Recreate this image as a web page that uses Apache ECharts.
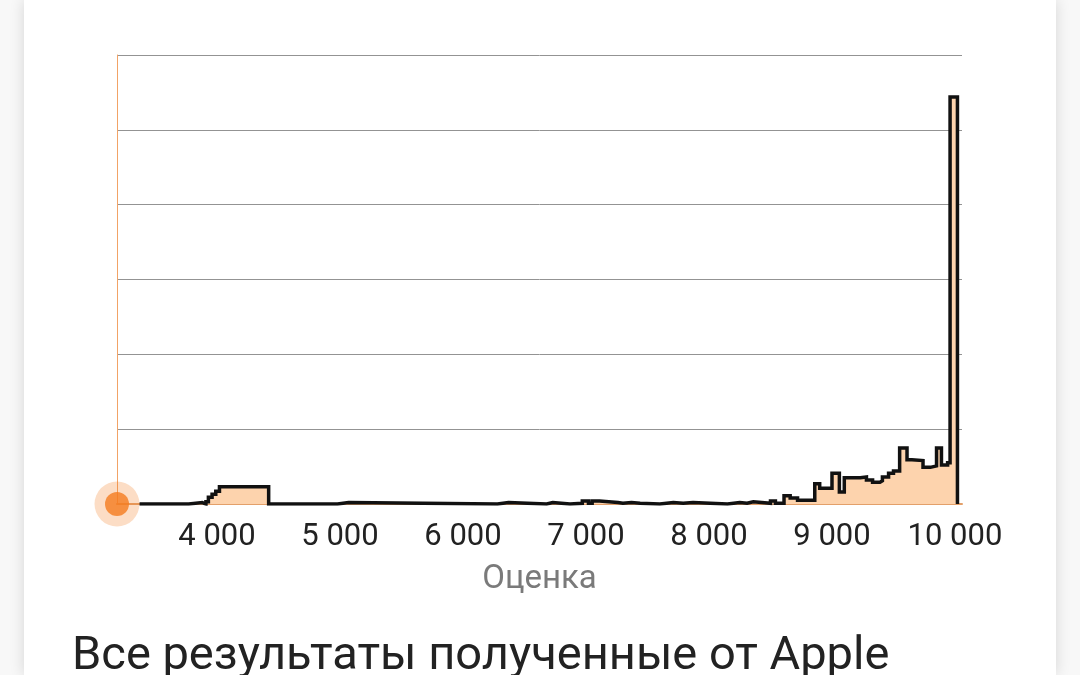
<!DOCTYPE html>
<html>
<head>
<meta charset="utf-8">
<script src="https://cdn.jsdelivr.net/npm/echarts@6/dist/echarts.min.js"></script>
<style>
  html, body { margin: 0; padding: 0; width: 1080px; height: 675px; overflow: hidden; background: #f8f8f8; }
  #card { position: absolute; left: 24px; top: 0; width: 1032px; height: 675px; background: #fff; box-shadow: 0 0 14px rgba(0,0,0,0.14); }
  #chart { position: absolute; left: 0; top: 0; width: 1080px; height: 675px; }
</style>
</head>
<body>
<div id="card"></div>
<div id="chart"></div>
<script>
// Step histogram: each edge starts a bin whose height holds until the next edge
const binEdges = [3370, 3770, 3880, 3910, 3930, 3960, 3990, 4020, 4420,
  4980, 5070, 6280, 6370, 6680, 6730, 6870, 6970, 7020, 7050, 7110, 7260, 7300, 7370, 7440,
  7600, 7710, 7790, 7870, 8150, 8250, 8310, 8360, 8500, 8540, 8610, 8660, 8720,
  8860, 8900, 9000, 9060, 9100, 9230, 9280, 9330, 9390, 9410, 9460, 9500,
  9550, 9610, 9650, 9740, 9800, 9850, 9890, 9940, 9960, 10020];
const binHeights = [0, 2, 0, 3, 9, 13, 17, 23, 0,
  2, 0, 2, 0, 2, 0, 1, 4, 1, 4, 2, 1, 2, 1, 0,
  2, 1, 2, 0, 2, 1, 3, 1, 4, 1, 11, 8, 5,
  27, 21, 41, 16, 35, 36, 32, 29, 31, 36, 41, 44,
  75, 59, 58, 49, 51, 75, 52, 55, 544, 0];
const xTickValues = [4000, 5000, 6000, 7000, 8000, 9000, 10000];
const xAxisName = 'Оценка';
const titleText = 'Все результаты полученные от Apple';
const axisMin = 3187, axisMax = 10057;
const originPoint = [axisMin, 0];

// Build explicit step outline: at each edge, drop/rise from previous height to the new one
const stepData = [];
binEdges.forEach((e, i) => {
  if (i > 0) stepData.push([e, binHeights[i - 1]]);
  stepData.push([e, binHeights[i]]);
});
const fmt = v => String(v).replace(/\B(?=(\d{3})+(?!\d))/g, ' ');

const chart = echarts.init(document.getElementById('chart'), null, { renderer: 'canvas' });
chart.setOption({
  backgroundColor: 'transparent',
  animation: false,
  grid: { left: 117, right: 118, top: 55, bottom: 171, containLabel: false },
  xAxis: {
    type: 'value', min: axisMin, max: axisMax,
    name: xAxisName, nameLocation: 'middle', nameGap: 59,
    nameTextStyle: { color: '#7a7a7a', fontSize: 33, fontFamily: 'Roboto' },
    axisLine: { show: true, lineStyle: { color: '#e3a06a', width: 2 } },
    axisTick: { show: false },
    splitLine: { show: false },
    axisLabel: {
      customValues: xTickValues, formatter: fmt,
      color: '#222', fontSize: 31, fontFamily: 'Roboto', margin: 18
    }
  },
  yAxis: {
    type: 'value', min: 0, max: 600, interval: 100,
    axisLine: { show: true, lineStyle: { color: '#f2a366', width: 1 } },
    axisTick: { show: false },
    axisLabel: { show: false },
    splitLine: { show: true, lineStyle: { color: '#939393', width: 1 } }
  },
  graphic: [{
    type: 'text', left: 72, top: 634,
    style: { text: titleText, fill: '#222', font: '47px Roboto' }
  }],
  series: [
    {
      type: 'line', data: stepData, symbol: 'none',
      lineStyle: { color: '#111', width: 3.5, join: 'miter' },
      areaStyle: { color: '#fdd3ad', opacity: 1 },
      z: 3
    },
    {
      type: 'scatter', data: [originPoint], symbolSize: 45, clip: false,
      itemStyle: { color: 'rgba(245,124,31,0.32)' }, z: 5, silent: true
    },
    {
      type: 'scatter', data: [originPoint], symbolSize: 24, clip: false,
      itemStyle: { color: '#f57c1f' }, z: 6, silent: true
    }
  ]
});
</script>
</body>
</html>
